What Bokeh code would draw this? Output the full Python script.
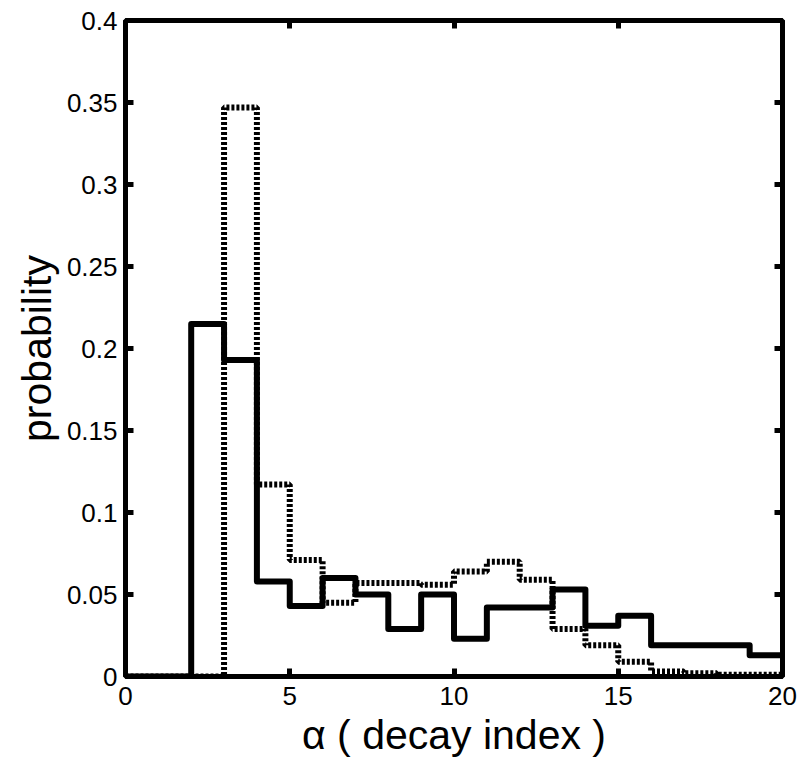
from bokeh.plotting import figure
from bokeh.models import Range1d, LinearAxis, FixedTicker
from bokeh.embed import file_html
from bokeh.resources import INLINE

# bin edges 0..20, one value per unit bin
edges = list(range(0, 21))
solid_prob = [0, 0, 0.215, 0.193, 0.058, 0.043, 0.060, 0.050, 0.029, 0.050,
              0.023, 0.042, 0.042, 0.053, 0.031, 0.037, 0.019, 0.019, 0.019, 0.013]
dotted_prob = [0, 0, 0, 0.347, 0.117, 0.071, 0.045, 0.057, 0.057, 0.056,
               0.064, 0.070, 0.059, 0.029, 0.019, 0.009, 0.003, 0.002, 0.001, 0.001]

x_ticks = [0, 5, 10, 15, 20]
y_ticks = [0, 0.05, 0.1, 0.15, 0.2, 0.25, 0.3, 0.35, 0.4]
y_tick_labels = ["0", "0.05", "0.1", "0.15", "0.2", "0.25", "0.3", "0.35", "0.4"]

FONT = "Liberation Sans"

p = figure(width=800, height=770, output_backend="svg", toolbar_location=None,
           x_range=Range1d(0, 20), y_range=Range1d(0, 0.4),
           min_border_left=125, min_border_right=18,
           min_border_top=20, min_border_bottom=94)

p.grid.visible = False
p.outline_line_color = "black"
p.outline_line_width = 5
p.outline_line_alpha = 1

# stairs: repeat last value so the final bin is drawn out to x=20
p.step(edges, dotted_prob + [dotted_prob[-1]], mode="after", line_color="black",
       line_width=6, line_dash="3 2")
p.step(edges, solid_prob + [solid_prob[-1]], mode="after", line_color="black",
       line_width=6, line_join="round")

p.xaxis.axis_label = "\u03b1 ( decay index )"
p.yaxis.axis_label = "probability"


def style_axis(ax, ticks, show_labels):
    ax.ticker = FixedTicker(ticks=ticks)
    ax.axis_line_color = None
    ax.major_tick_in = 8
    ax.major_tick_out = 0
    ax.major_tick_line_width = 5
    ax.major_tick_line_color = "black"
    ax.minor_tick_line_color = None
    ax.major_label_text_font = FONT
    ax.major_label_text_color = "black"
    ax.major_label_text_font_size = "26px"
    if show_labels:
        ax.major_label_standoff = 10
        ax.axis_label_text_font = FONT
        ax.axis_label_text_font_size = "41px"
        ax.axis_label_text_font_style = "normal"
        ax.axis_label_text_color = "black"
        ax.axis_label_standoff = 4
    else:
        # box ticks only, no labels on top/right
        ax.major_label_overrides = {t: "" for t in ticks}
        ax.major_label_standoff = 0


style_axis(p.xaxis[0], x_ticks, True)
style_axis(p.yaxis[0], y_ticks, True)
p.yaxis[0].major_label_overrides = dict(zip(y_ticks, y_tick_labels))
p.yaxis[0].major_label_standoff = 8

top = LinearAxis()
right = LinearAxis()
style_axis(top, x_ticks, False)
style_axis(right, y_ticks, False)
p.add_layout(top, "above")
p.add_layout(right, "right")

open("out.html", "w").write(file_html(p, INLINE))
